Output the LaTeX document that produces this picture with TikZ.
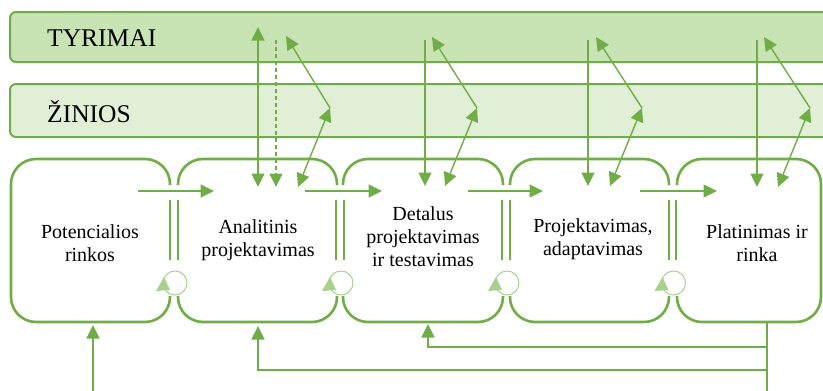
\documentclass[tikz,border=0pt]{standalone}
\usepackage{fontspec}
\setmainfont{Liberation Serif}
\usetikzlibrary{arrows.meta}
\definecolor{grn}{HTML}{70AD47}
\definecolor{grnlight}{HTML}{A9D18E}
\definecolor{bandA}{HTML}{C8E3B4}
\definecolor{bandB}{HTML}{E1EFD7}
\tikzset{
  head/.tip={Triangle[length=13.5pt,width=13pt]},
  band/.style={draw=grn, line width=2pt, rounded corners=6pt},
  bandtext/.style={anchor=west, inner sep=0pt, font=\fontsize{25.5}{28}\selectfont},
  stagetext/.style={align=center, inner sep=0pt, font=\fontsize{20}{23}\selectfont},
  outline/.style={draw=grn, line width=2.6pt, rounded corners=25pt},
  bar/.style={draw=grn, line width=2.3pt},
  link/.style={draw=grn, line width=1.4pt, -{head}},
  both/.style={draw=grn, line width=1.4pt, {head}-{head}},
  plain/.style={draw=grn, line width=1.4pt},
  loop/.style={draw=grnlight, line width=1pt}
}
\begin{document}
\begin{tikzpicture}[x=1pt,y=-1pt]
\clip (0,0) rectangle (823,391);
\useasboundingbox (0,0) rectangle (823,391);

% two horizontal bands
\path[band, fill=bandA] (10,12) rectangle (850,62);
\path[band, fill=bandB] (10,84) rectangle (850,137);
\node[bandtext] (tyr) at (47,38) {TYRIMAI};
\node[bandtext] (zin) at (47,112) {ŽINIOS};

% stage outlines (open where neighbouring stages meet)
\path[outline] (170,185) -- (170,159) -- (11,159) -- (11,322) -- (170,322) -- (170,296);
\path[outline] (178,185) -- (178,159) -- (337,159) -- (337,185);
\path[outline] (178,296) -- (178,322) -- (337,322) -- (337,296);
\path[outline] (343,185) -- (343,159) -- (503,159) -- (503,185);
\path[outline] (343,296) -- (343,322) -- (503,322) -- (503,296);
\path[outline] (510,185) -- (510,159) -- (669,159) -- (669,185);
\path[outline] (510,296) -- (510,322) -- (669,322) -- (669,296);
\path[outline] (677,185) -- (677,159) -- (821,159) -- (821,322) -- (677,322) -- (677,296);

% stage texts
\node[stagetext] (s1) at (90,243) {Potencialios\\rinkos};
\node[stagetext] (s2) at (258,240) {Analitinis\\projektavimas};
\node[stagetext] (s3) at (423,237) {Detalus\\projektavimas\\ir testavimas};
\node[stagetext] (s4) at (593,239) {Projektavimas,\\adaptavimas};
\node[stagetext] (s5) at (757,243) {Platinimas ir\\rinka};

% double bars and small loops between stages
\foreach \x in {174,340,506,672.5}{
  \draw[bar] (\x-3.8,200) -- (\x-3.8,260);
  \draw[bar] (\x+3.8,200) -- (\x+3.8,260);
  \draw[loop] (\x+1,283) circle (12);
  \fill[grnlight] (\x-18,291) -- (\x-4,290) -- (\x-10,277) -- cycle;
}

% forward arrows between stages
\coordinate (f1a) at (138,191); \coordinate (f1b) at (214,191);
\coordinate (f2a) at (305,191); \coordinate (f2b) at (382,191);
\coordinate (f3a) at (468,191); \coordinate (f3b) at (543,191);
\coordinate (f4a) at (640,191); \coordinate (f4b) at (717,191);
\draw[link] (f1a) -- (f1b);
\draw[link] (f2a) -- (f2b);
\draw[link] (f3a) -- (f3b);
\draw[link] (f4a) -- (f4b);

% links with research and knowledge: stage 2
\coordinate (r2) at (258,27);  \coordinate (v2) at (258,187);
\coordinate (q2) at (276,40);  \coordinate (w2) at (276,187);
\coordinate (y2) at (286,36);  \coordinate (k2) at (330,108); \coordinate (z2) at (298,187);
\draw[both] (v2) -- (r2);
\draw[link, dash pattern=on 4pt off 3pt] (q2) -- (w2);
\draw[both] (z2) -- (k2);
\draw[link] (k2) -- (y2);

% stage 3
\coordinate (r3) at (425,40);  \coordinate (v3) at (425,186);
\coordinate (y3) at (432,37);  \coordinate (k3) at (477,108); \coordinate (z3) at (445,186);
\draw[link] (r3) -- (v3);
\draw[both] (z3) -- (k3);
\draw[link] (k3) -- (y3);

% stage 4
\coordinate (r4) at (588,40);  \coordinate (v4) at (588,186);
\coordinate (y4) at (596,37);  \coordinate (k4) at (642,108); \coordinate (z4) at (610,186);
\draw[link] (r4) -- (v4);
\draw[both] (z4) -- (k4);
\draw[link] (k4) -- (y4);

% stage 5
\coordinate (r5) at (757,40);  \coordinate (v5) at (757,187);
\coordinate (y5) at (764,37);  \coordinate (k5) at (810,108); \coordinate (z5) at (778,187);
\draw[link] (r5) -- (v5);
\draw[both] (z5) -- (k5);
\draw[link] (k5) -- (y5);

% feedback lines below the stages
\coordinate (e1) at (93,391);  \coordinate (g1) at (93,325);
\coordinate (o5) at (767,322); \coordinate (j3) at (767,347); \coordinate (j2) at (767,370);
\coordinate (e5) at (767,391);
\coordinate (c3) at (428,347); \coordinate (g3) at (428,324);
\coordinate (c2) at (258,370); \coordinate (g2) at (258,326);
\draw[link] (e1) -- (g1);
\draw[link] (o5) -- (j3) -- (c3) -- (g3);
\draw[link] (j3) -- (j2) -- (c2) -- (g2);
\draw[plain] (j2) -- (e5);
\end{tikzpicture}
\end{document}
